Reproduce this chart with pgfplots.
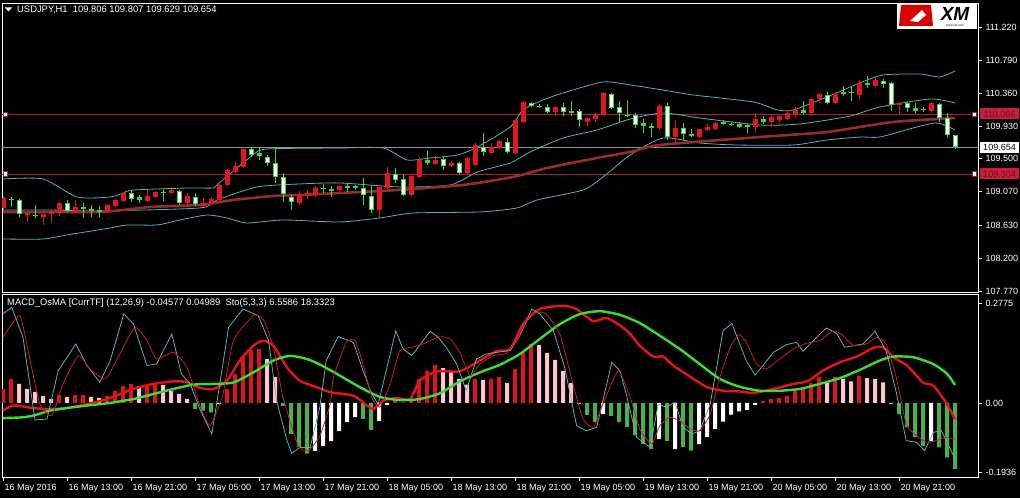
\documentclass[border=0pt]{standalone}
\usepackage{pgfplots}
\pgfplotsset{compat=1.18}
\usepackage{pgfplotstable}
\usepackage{fontspec}
\setmainfont{Liberation Sans}

\definecolor{bull}{RGB}{226,22,30}
\definecolor{bearln}{RGB}{70,210,70}
\definecolor{band}{RGB}{95,175,185}
\definecolor{mavg}{RGB}{150,45,45}
\definecolor{lvl}{RGB}{175,30,50}
\definecolor{lvlbox}{RGB}{200,30,60}
\definecolor{lvltext}{RGB}{110,15,35}
\definecolor{lastpx}{RGB}{140,150,160}
\definecolor{hred}{RGB}{220,20,30}
\definecolor{hpink}{RGB}{255,195,205}
\definecolor{hgreen}{RGB}{75,175,75}
\definecolor{macdred}{RGB}{230,20,20}
\definecolor{siggreen}{RGB}{60,220,50}
\definecolor{stocyan}{RGB}{100,175,180}
\definecolor{stored}{RGB}{200,30,30}

\newcommand\tickfont{\fontsize{9bp}{10bp}\selectfont}
\newcommand\headfont{\fontsize{9.4bp}{10bp}\selectfont}

% candles: bar index, open, high, low, close
\pgfplotstableread{
i o h l c
0 108.860 109.016 108.808 108.990
3 108.768 108.794 108.677 108.794
5 108.742 108.781 108.638 108.781
6 108.781 108.834 108.664 108.821
7 108.794 108.938 108.755 108.925
9 108.808 108.964 108.794 108.873
13 108.808 108.912 108.808 108.899
14 108.886 108.977 108.873 108.964
15 108.951 109.068 108.938 109.055
18 108.951 109.094 108.938 109.016
19 109.003 109.081 108.990 109.068
21 109.055 109.107 109.042 109.094
23 108.925 109.055 108.899 109.016
25 108.886 108.990 108.873 108.925
26 108.925 109.003 108.899 108.977
27 108.964 109.173 108.951 109.160
28 109.160 109.368 109.147 109.355
29 109.329 109.460 109.316 109.407
30 109.394 109.655 109.381 109.629
37 108.925 109.081 108.899 109.029
38 109.029 109.094 108.977 109.055
39 109.029 109.147 109.003 109.120
42 109.094 109.160 109.068 109.147
47 108.834 109.160 108.729 109.134
48 109.120 109.394 109.107 109.316
51 109.029 109.303 109.016 109.277
52 109.264 109.525 109.251 109.486
54 109.434 109.538 109.420 109.486
56 109.407 109.473 109.394 109.447
58 109.316 109.525 109.303 109.512
59 109.420 109.707 109.407 109.681
61 109.577 109.707 109.577 109.655
62 109.642 109.746 109.629 109.733
64 109.577 110.007 109.564 110.007
65 109.981 110.255 109.968 110.242
69 110.112 110.190 110.059 110.177
73 109.981 110.046 109.929 110.033
74 110.020 110.099 109.981 110.085
75 110.072 110.372 110.059 110.359
82 109.903 110.216 109.877 110.190
84 109.785 110.007 109.707 109.903
87 109.785 109.890 109.772 109.890
88 109.877 109.955 109.864 109.916
89 109.890 109.981 109.877 109.968
94 109.916 110.099 109.838 110.020
96 109.981 110.072 109.916 110.046
97 110.007 110.085 109.968 110.059
98 110.020 110.138 110.007 110.099
99 110.072 110.177 110.046 110.138
101 110.099 110.281 110.085 110.281
102 110.281 110.359 110.229 110.346
104 110.229 110.372 110.216 110.346
107 110.333 110.529 110.268 110.490
109 110.451 110.555 110.438 110.529
112 110.203 110.242 110.085 110.229
116 110.125 110.242 110.099 110.229
}\bulltab

\pgfplotstableread{
i o h l c
2 108.964 108.977 108.742 108.781
8 108.925 108.964 108.808 108.821
16 109.055 109.094 108.938 108.977
22 109.081 109.094 108.899 108.925
24 109.003 109.055 108.886 108.912
31 109.629 109.655 109.525 109.551
33 109.525 109.551 109.407 109.447
34 109.447 109.642 109.186 109.264
35 109.264 109.316 108.938 109.042
36 109.003 109.029 108.834 108.938
45 109.120 109.251 108.899 109.029
46 109.016 109.160 108.794 108.834
49 109.303 109.381 109.186 109.225
50 109.238 109.290 109.016 109.029
55 109.499 109.525 109.355 109.407
57 109.447 109.460 109.303 109.316
60 109.655 109.838 109.538 109.590
63 109.720 109.772 109.577 109.590
66 110.229 110.242 110.177 110.190
68 110.177 110.216 110.099 110.112
70 110.177 110.229 110.059 110.112
72 110.125 110.151 109.916 110.007
76 110.346 110.359 110.151 110.164
77 110.177 110.255 109.981 110.099
79 110.072 110.099 109.903 109.942
83 110.190 110.229 109.746 109.785
85 109.903 109.968 109.746 109.825
103 110.333 110.372 110.216 110.229
110 110.516 110.542 110.425 110.477
111 110.490 110.503 110.125 110.203
113 110.229 110.242 110.112 110.164
117 110.216 110.229 109.981 110.033
118 110.033 110.099 109.772 109.812
119 109.806 109.807 109.629 109.654
}\beartab

% small-bodied candles, drawn all green
\pgfplotstableread{
i lo hi l h
1 108.964 108.977 108.873 109.003
4 108.755 108.768 108.729 108.899
10 108.847 108.873 108.729 108.925
11 108.826 108.840 108.742 108.899
12 108.808 108.821 108.742 108.886
17 108.964 109.003 108.925 109.029
20 109.055 109.068 108.951 109.107
32 109.538 109.577 109.486 109.655
40 109.107 109.120 109.055 109.173
41 109.081 109.107 109.003 109.147
43 109.120 109.134 109.068 109.173
44 109.120 109.134 109.094 109.160
53 109.447 109.473 109.420 109.603
67 110.177 110.190 110.164 110.216
71 110.099 110.112 110.059 110.255
78 110.059 110.072 110.046 110.268
80 109.929 109.968 109.838 110.020
81 109.903 109.929 109.785 109.968
86 109.798 109.825 109.785 109.890
90 109.955 109.981 109.942 110.007
91 109.942 109.955 109.929 109.981
92 109.916 109.955 109.903 109.981
93 109.916 109.942 109.838 109.955
95 109.981 110.020 109.955 110.059
100 110.099 110.138 110.085 110.255
105 110.346 110.372 110.320 110.451
106 110.359 110.372 110.255 110.438
108 110.464 110.490 110.425 110.581
114 110.125 110.164 110.099 110.229
115 110.138 110.151 110.112 110.177
}\dojitab

\begin{document}
\begin{tikzpicture}
\fill[black] (0,0) rectangle (1020bp,498bp);
\useasboundingbox (0,0) rectangle (1020bp,498bp);

% ---------------- price window ----------------
\begin{axis}[
    at={(2bp,206bp)}, anchor=south west,
    width=976bp, height=289bp, scale only axis,
    xmin=-0.125, xmax=121.875,
    ymin=107.764, ymax=111.533,
    axis line style={white, line width=0.8bp},
    xtick=\empty,
    ytick={107.77,108.2,108.63,109.07,109.5,109.93,110.36,110.79,111.22},
    yticklabels={107.770,108.200,108.630,109.070,109.500,109.930,110.360,110.790,111.220},
    ytick pos=right, yticklabel pos=right,
    tick align=outside, major tick length=4bp,
    tick style={white, line width=0.8bp},
    yticklabel style={text=white, font=\tickfont},
    clip mode=individual]

    % horizontal levels
    \addplot[lvl, line width=0.8bp] coordinates {(-1,110.086) (121.4,110.086)};
    \addplot[lvl, line width=0.8bp] coordinates {(-1,109.304) (121.4,109.304)};
    \addplot[lastpx, line width=0.8bp] coordinates {(-1,109.654) (123,109.654)};

    % Bollinger bands
    \addplot[band, line width=0.8bp, smooth, tension=0.4] coordinates {
        (0,109.238) (5,109.238) (9.25,109.003) (13.4,109.003) (15,109.055) (16.3,109.094)
        (23,109.120) (26.25,109.120) (26.75,109.160) (31.25,109.551) (33,109.629)
        (42.1,109.642) (47.5,109.642) (50.5,109.486) (53.4,109.512) (56.8,109.551)
        (59.3,109.655) (63.4,109.916) (65,110.138) (67.5,110.268) (70,110.359) (75,110.503)
        (78.4,110.464) (82.5,110.398) (86.3,110.333) (93.8,110.242) (96.8,110.138)
        (98.8,110.138) (103,110.307) (107.1,110.490) (110,110.594) (114.6,110.607)
        (117.1,110.568) (119,110.646)};
    \addplot[band, line width=0.8bp, smooth, tension=0.4] coordinates {
        (0,108.834) (5.5,108.834) (12.1,108.821) (24.6,108.860) (26.75,108.964)
        (31.75,109.134) (37.1,109.173) (42.1,109.186) (49.6,109.134) (55.9,109.160)
        (59.3,109.329) (63.4,109.447) (65.9,109.590) (70,109.772) (74.25,109.877)
        (78.4,110.020) (82.5,110.099) (87.1,110.033) (94.6,109.942) (99.6,109.955)
        (105.9,110.059) (109.6,110.177) (115.9,110.281) (119,110.229)};
    \addplot[band, line width=0.8bp, smooth, tension=0.4] coordinates {
        (0,108.455) (5,108.455) (8,108.508) (13.4,108.599) (15.5,108.638) (19.25,108.638)
        (22.1,108.703) (25.5,108.768) (28,108.729) (30.5,108.664) (35,108.703)
        (42.1,108.677) (47.1,108.729) (51.25,108.794) (59.6,108.808)
        (64.25,108.860) (66.75,108.964) (72.5,109.094) (75,109.264) (78.4,109.551)
        (82.5,109.772) (87.1,109.707) (91.75,109.681) (98.75,109.681) (103,109.746)
        (107.1,109.785) (109.6,109.785) (113.75,109.903) (116.5,109.968) (118,109.929)
        (119,109.877)};
    % moving average
    \addplot[mavg, line width=2.6bp, smooth, tension=0.4] coordinates {
        (0,108.808) (12.1,108.808) (18.4,108.873) (24.6,108.899) (28.75,108.964)
        (33.75,109.016) (37.1,109.029) (42.1,109.055)
        (49.25,109.094) (57.5,109.160) (63.75,109.264) (68,109.381) (74.25,109.512)
        (78.4,109.590) (82.1,109.681) (94.6,109.785) (103,109.851) (111.25,109.981)
        (119,110.033)};

    % candles: wicks
    \addplot[draw=none, mark=none, error bars/.cd, y dir=plus, y explicit, error mark=none,
        error bar style={draw=bull, line width=1bp}]
        table[x=i, y=l, y error plus expr={\thisrow{h}-\thisrow{l}}] {\bulltab};
    \addplot[draw=none, mark=none, error bars/.cd, y dir=plus, y explicit, error mark=none,
        error bar style={draw=bearln, line width=1bp}]
        table[x=i, y=l, y error plus expr={\thisrow{h}-\thisrow{l}}] {\beartab};
    \addplot[draw=none, mark=none, error bars/.cd, y dir=plus, y explicit, error mark=none,
        error bar style={draw=bearln, line width=1bp}]
        table[x=i, y=l, y error plus expr={\thisrow{h}-\thisrow{l}}] {\dojitab};
    % candles: bodies
    \addplot[draw=none, mark=none, error bars/.cd, y dir=plus, y explicit, error mark=none,
        error bar style={draw=bull, line width=5bp}]
        table[x=i, y=o, y error plus expr={\thisrow{c}-\thisrow{o}}] {\bulltab};
    \addplot[draw=none, mark=none, error bars/.cd, y dir=plus, y explicit, error mark=none,
        error bar style={draw=bearln, line width=5bp}]
        table[x=i, y=c, y error plus expr={\thisrow{o}-\thisrow{c}}] {\beartab};
    \addplot[draw=none, mark=none, error bars/.cd, y dir=plus, y explicit, error mark=none,
        error bar style={draw=white, line width=3bp}]
        table[x=i, y expr={\thisrow{c}+0.013}, y error plus expr={\thisrow{o}-\thisrow{c}-0.026}] {\beartab};
    \addplot[draw=none, mark=none, error bars/.cd, y dir=plus, y explicit, error mark=none,
        error bar style={draw=bearln, line width=5bp}]
        table[x=i, y expr={\thisrow{lo}-0.006}, y error plus expr={\thisrow{hi}-\thisrow{lo}+0.012}] {\dojitab};

    % level anchors and price labels
    \node[draw=lvl, fill=white, minimum size=4.5bp, inner sep=0pt] at (axis cs:0.25,110.086) {};
    \node[draw=lvl, fill=white, minimum size=4.5bp, inner sep=0pt] at (axis cs:121.4,110.086) {};
    \node[draw=lvl, fill=white, minimum size=4.5bp, inner sep=0pt] at (axis cs:0.25,109.304) {};
    \node[draw=lvl, fill=white, minimum size=4.5bp, inner sep=0pt] at (axis cs:121.4,109.304) {};
    \node[fill=lvlbox, text=lvltext, font=\tickfont, anchor=west, inner sep=1.5bp,
          minimum width=39bp, minimum height=11bp] at (axis cs:122.1,110.086) {110.086};
    \node[fill=lvlbox, text=lvltext, font=\tickfont, anchor=west, inner sep=1.5bp,
          minimum width=39bp, minimum height=11bp] at (axis cs:122.1,109.304) {109.304};
    \node[fill=white, text=black, font=\tickfont, anchor=west, inner sep=1.5bp,
          minimum width=39bp, minimum height=11bp] at (axis cs:122.1,109.654) {109.654};
\end{axis}

% ---------------- MACD / OsMA window ----------------
\begin{axis}[
    at={(2bp,21bp)}, anchor=south west,
    width=976bp, height=183bp, scale only axis,
    xmin=-0.125, xmax=121.875,
    ymin=-0.2056, ymax=0.3028,
    axis line style={white, line width=0.8bp},
    xtick={0,8,...,112},
    xticklabels={16 May 2016,16 May 13:00,16 May 21:00,17 May 05:00,17 May 13:00,
        17 May 21:00,18 May 05:00,18 May 13:00,18 May 21:00,19 May 05:00,19 May 13:00,
        19 May 21:00,20 May 05:00,20 May 13:00,20 May 21:00},
    xtick pos=left, xticklabel pos=left,
    ytick={-0.1936,0,0.2775},
    yticklabels={-0.1936,0.00,0.2775},
    ytick pos=right, yticklabel pos=right,
    tick align=outside, major tick length=4bp,
    tick style={white, line width=0.8bp},
    yticklabel style={text=white, font=\tickfont},
    xticklabel style={text=white, font=\tickfont, anchor=north west, xshift=-2bp}]

    \addplot[ybar, bar width=4bp, bar shift=0pt, fill=hred, draw=none] coordinates {
        (0,0.039) (1,0.067) (7,0.022) (9,0.022) (10,0.022) (13,0.019) (14,0.033)
        (15,0.047) (16,0.053) (18,0.050) (19,0.054) (28,0.039) (29,0.080) (30,0.130)
        (31,0.147) (32,0.150) (49,0.008) (50,0.002) (51,0.006) (52,0.067) (53,0.090)
        (54,0.106) (59,0.067) (61,0.067) (62,0.072) (64,0.094) (65,0.140) (66,0.164)
        (95,0.006) (96,0.011) (97,0.014) (98,0.020) (99,0.034) (100,0.039) (101,0.055)
        (102,0.073) (104,0.073) (107,0.076)};
    \addplot[ybar, bar width=4bp, bar shift=0pt, fill=hpink, draw=none] coordinates {
        (2,0.053) (3,0.039) (4,0.031) (5,0.019) (6,0.011) (8,0.017) (11,0.017)
        (12,0.014) (17,0.047) (20,0.050) (21,0.033) (22,0.025) (23,0.011) (33,0.122)
        (34,0.072) (55,0.097) (56,0.089) (57,0.067) (58,0.051) (60,0.064) (63,0.055)
        (67,0.161) (68,0.139) (69,0.120) (70,0.089) (71,0.055) (103,0.060) (105,0.067)
        (106,0.060) (108,0.069) (109,0.066) (110,0.057)};
    \addplot[ybar, bar width=4bp, bar shift=0pt, fill=hgreen, draw=none] coordinates {
        (24,-0.017) (25,-0.021) (26,-0.026) (35,-0.008) (36,-0.086) (37,-0.122)
        (38,-0.141) (45,-0.044) (46,-0.075) (73,-0.033) (74,-0.053) (76,-0.036)
        (77,-0.053) (78,-0.067) (79,-0.090) (80,-0.114) (81,-0.128) (83,-0.105)
        (85,-0.122) (86,-0.132) (112,-0.031) (113,-0.068) (114,-0.095) (115,-0.119)
        (117,-0.123) (118,-0.151) (119,-0.183)};
    \addplot[ybar, bar width=4bp, bar shift=0pt, fill=white, draw=none] coordinates {
        (27,-0.003) (39,-0.133) (40,-0.119) (41,-0.106) (42,-0.078) (43,-0.053)
        (44,-0.039) (47,-0.050) (48,-0.005) (72,-0.002) (75,-0.031) (82,-0.100)
        (84,-0.128) (87,-0.114) (88,-0.094) (89,-0.072) (90,-0.052) (91,-0.032)
        (92,-0.023) (93,-0.019) (94,-0.005) (111,-0.002) (116,-0.105)};

    % MACD line
    \addplot[macdred, line width=2.4bp, smooth, tension=0.4] coordinates {
        (0,-0.021) (1.3,-0.007) (3.8,-0.014) (5.9,-0.017) (8,-0.014) (10.5,-0.003)
        (13,0.011) (16.3,0.039) (18.8,0.053) (21.3,0.060) (23,0.058) (24.6,0.042)
        (26.3,0.039) (28,0.062) (29.6,0.118) (31.3,0.159) (32.5,0.173) (33.8,0.159)
        (35.5,0.099) (37.1,0.062) (39.2,0.044) (40.9,0.030) (43.8,0.020) (45.5,-0.007)
        (46.3,-0.017) (47.5,0.006) (49.2,0.014) (50.9,0.011) (52.1,0.062) (54.2,0.088)
        (57.1,0.088) (59.2,0.113) (61.7,0.144) (63.4,0.150) (65,0.219) (67.1,0.261)
        (70,0.270) (71.7,0.261) (73.8,0.227) (75.5,0.236) (78,0.201) (79.6,0.159)
        (81.3,0.129) (82.5,0.129) (83.8,0.104) (85.9,0.073) (88,0.044) (90,0.034)
        (92.1,0.032) (93.8,0.028) (96.3,0.039) (98.8,0.053) (100.5,0.060) (102.5,0.090)
        (104.6,0.113) (106.7,0.129) (108.8,0.153) (110,0.155) (111.3,0.127) (113,0.104)
        (115,0.057) (116.3,0.048) (118,-0.003) (119,-0.046)};
    % signal line
    \addplot[siggreen, line width=2.4bp, smooth, tension=0.4] coordinates {
        (0,-0.042) (2.3,-0.040) (3.8,-0.035) (5.9,-0.021) (8,-0.014) (10.5,-0.007)
        (13,-0.001) (16.3,0.011) (18.8,0.025) (21.3,0.039) (23.8,0.051) (26.3,0.053)
        (28.8,0.057) (31.3,0.085) (33.8,0.118) (35.9,0.131) (38,0.122) (39.6,0.107)
        (42.1,0.076) (44.6,0.044) (47.1,0.017) (49.6,0.008) (52.1,0.011) (54.6,0.027)
        (57.1,0.060) (59.6,0.085) (62.1,0.106) (64.6,0.136) (67.1,0.178) (69.6,0.219)
        (72.1,0.247) (74.6,0.255) (77.1,0.245) (79.6,0.222) (82.1,0.187) (84.6,0.150)
        (87.1,0.108) (89.6,0.067) (92.1,0.045) (94.6,0.034) (97.1,0.034) (99.6,0.039)
        (102.1,0.053) (104.6,0.069) (107.1,0.092) (109.6,0.118) (111.3,0.129)
        (113.8,0.127) (116.3,0.108) (118,0.081) (119,0.050)};
\end{axis}

% ---------------- stochastic, drawn on the same window ----------------
\begin{axis}[
    at={(2bp,21bp)}, anchor=south west,
    width=976bp, height=183bp, scale only axis,
    xmin=-0.125, xmax=121.875, ymin=-4.1, ymax=103.5,
    axis lines=none, ticks=none]
    \addplot[stocyan, line width=0.8bp] coordinates {
        (0,91.8) (1.1,95.7) (2.5,78) (4,29.4) (5.5,30) (6.9,58.4) (9.1,74.1) (10.5,61.4)
        (12.1,51.6) (13.4,64.3) (15.1,91.8) (16.3,85.9) (18,61.4) (19.2,62.4) (21.1,80)
        (22.3,56.5) (23.4,50.6) (24.6,35.9) (26.1,21.2) (27.1,50.6) (28.2,83.9) (30,94.7)
        (31.9,90.8) (33.2,76.1) (34.2,40.8) (35.5,17.3) (36.1,9.8) (37.1,13.3) (38.4,13.3)
        (39.6,36.9) (40.4,64.3) (41.9,78.4) (43.8,75.1) (45,58.4) (46.1,44.7) (46.9,38.8)
        (47.9,58.4) (49.1,81.9) (50,71.2) (51.1,67.3) (53.4,81.6) (54.4,78) (55.4,72.2)
        (56.7,62.4) (57.9,46.7) (59.2,65.3) (60.4,68.2) (61.7,69.2) (63.4,70.2) (64.6,79)
        (66.1,94.7) (67.1,91.8) (68.8,81.9) (70.2,60.4) (71.7,26.1) (72.9,23.1) (74.2,25.1)
        (76.1,63.3) (77.1,58.4) (77.9,44.7) (79.2,19.2) (80.9,13.3) (81.9,38.8) (82.9,36.9)
        (84,39.8) (85,25.1) (86.1,21.2) (87.1,23.1) (88.4,38.8) (90,81.9) (91.1,86.2)
        (92.1,74.1) (92.9,64.3) (94,55.9) (95,61.4) (96.3,69.2) (97.9,73.7) (99.2,75.1)
        (100,69.8) (101.3,76.1) (102.9,83.5) (104.2,80.4) (105.2,72.2) (106.3,73.1)
        (107.5,74.1) (109,81.6) (110.4,70.2) (111.7,44.7) (112.9,17.3) (114.2,16.3)
        (115.2,11.4) (116.3,22.2) (117.3,23.1) (118.1,15.3) (119,6.6)};
    \addplot[stored, line width=0.8bp, smooth, tension=0.3] coordinates {
        (0,78) (2.1,90.8) (3.4,64.3) (4.6,38.8) (6.1,31.9) (7.5,50.6) (9.4,67.3) (10.9,59.4)
        (12.8,53.5) (14.6,68.2) (16.5,83.9) (18,76.1) (19.2,65.3) (21.3,69.2) (23,60.4)
        (24.6,37.8) (25.9,26.1) (27.5,44.7) (28.8,76.1) (31.3,90.8) (32.5,88.8) (33.8,72.2)
        (35,42.7) (36.9,14.3) (38.2,11.4) (39.6,20) (40.9,38.8) (41.3,54.5) (42.9,75.1)
        (44,76.1) (45,62.4) (46.1,42.7) (47.1,36.9) (48.4,50.6) (49.6,70.2) (51.1,72.2)
        (52.5,74.1) (54.6,78.4) (55.9,77) (57.1,69.2) (58.4,55.5) (59.6,62.4) (61.3,67.3)
        (62.9,68.6) (64.2,76.1) (65.4,87.8) (66.7,92.7) (67.9,91.8) (69.6,80) (71.3,49.6)
        (72.5,30) (73.8,25.1) (75,38.8) (76.9,58.4) (78.4,42.7) (79.6,24) (81.1,15.3)
        (82.1,26.1) (83.3,31) (84.6,29) (85.9,24.1) (87.1,23.1) (88.4,32.9) (89.6,54.5)
        (90.9,72.2) (92,79.6) (92.9,75.1) (94.2,62.4) (95.4,59.4) (97.1,65.3) (98.8,71.2)
        (100.4,74.5) (102.1,76.1) (103.8,81.9) (105,79) (106.3,73.1) (107.9,74.1)
        (109.2,78) (110.4,74.1) (111.7,53.5) (112.9,27.1) (114.2,20.2) (115.4,16.3)
        (116.7,17.3) (117.9,19.2) (119,18.3)};
\end{axis}

% window headers
\fill[white] (5bp,490.5bp) -- (12bp,490.5bp) -- (8.5bp,486.5bp) -- cycle;
\node[anchor=west, text=white, font=\headfont, inner sep=0pt] at (17bp,488bp)
    {USDJPY,H1\ \ 109.806 109.807 109.629 109.654};
\node[anchor=west, text=white, font=\headfont, inner sep=0pt] at (7bp,195bp)
    {MACD\_OsMA [CurrTF] (12,26,9) -0.04577 0.04989\ \ Sto(5,3,3) 6.5586 18.3323};

% broker logo
\fill[white] (897bp,469bp) rectangle (977bp,495bp);
\fill[red!85!black] (899bp,472bp) -- (933bp,472bp) -- (931bp,493bp) -- (901bp,493bp) -- cycle;
\fill[white] (910bp,477bp) -- (922bp,488bp) -- (926bp,483bp) -- (918bp,476bp) -- cycle;
\node[text=black, font=\fontsize{19bp}{19bp}\selectfont\bfseries\itshape, inner sep=0pt]
    at (955bp,484.5bp) {XM};
\node[text=black, font=\fontsize{3bp}{3bp}\selectfont, inner sep=0pt] at (955bp,472bp) {www.xm.com};
\end{tikzpicture}
\end{document}
